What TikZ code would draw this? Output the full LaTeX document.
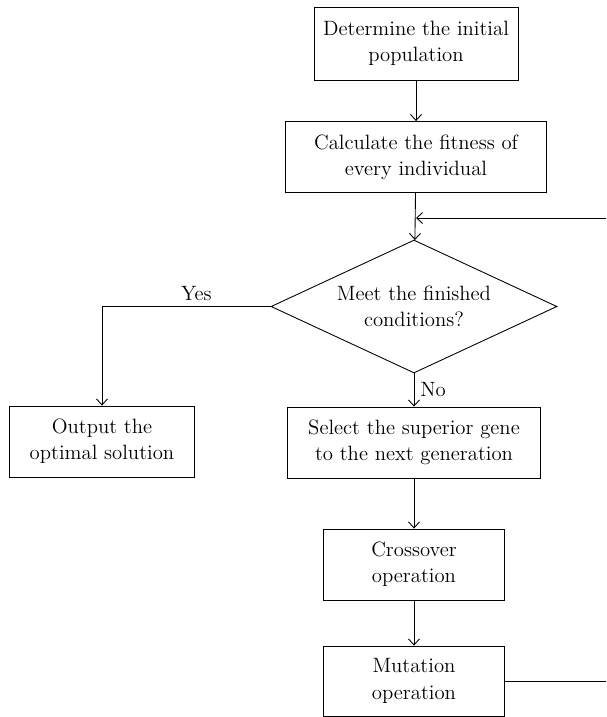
\documentclass[tikz,border=0pt]{standalone}
\usepackage{amsmath}
\usetikzlibrary{arrows, arrows.meta}
\usetikzlibrary{calc}
\usetikzlibrary{shapes.geometric}

\begin{document}
\begin{tikzpicture}[x=0.02cm, y=-0.02cm, line width=0.5pt,
    every node/.style={font=\fontsize{11.8}{15}\selectfont},
    flowbox/.style={rectangle, draw, align=center, inner sep=0pt, minimum height=1.42cm},
    flowtest/.style={diamond, draw, align=center, inner sep=0pt, aspect=2.15, minimum width=5.72cm, minimum height=2.66cm},
    flowarrow/.style={-{Straight Barb[length=1.2mm, width=2.2mm]}}]
      \useasboundingbox (0,0) rectangle (606,717);

      \node[flowbox, minimum width=4.08cm, minimum height=1.46cm] (init) at (416,43.5) {Determine the initial\\population};
      \node[flowbox, minimum width=5.22cm] (fit) at (416,157) {Calculate the fitness of\\every individual};
      \node[flowtest] (cond) at (414,306.5) {Meet the finished\\conditions?};
      \node[flowbox, minimum width=3.7cm] (out) at (102,441.5) {Output the\\optimal solution};
      \node[flowbox, minimum width=5.06cm] (sel) at (414,442.5) {Select the superior gene\\to the next generation};
      \node[flowbox, minimum width=3.62cm] (cross) at (414,564.5) {Crossover\\operation};
      \node[flowbox, minimum width=3.62cm, minimum height=1.4cm] (mut) at (414,681) {Mutation\\operation};

      \coordinate (loopin) at (606,218);
      \coordinate (loopout) at (606,681);

      \draw[flowarrow] (init) -- (fit);
      \draw[flowarrow] (fit) -- (cond);
      \draw[flowarrow] (loopin) -- (fit.south |- loopin);
      \draw[flowarrow] (cond.west) -| (out.north) node[pos=0.22, above] {Yes};
      \draw[flowarrow] (cond.south) -- (sel.north) node[midway, right] {No};
      \draw[flowarrow] (sel) -- (cross);
      \draw[flowarrow] (cross) -- (mut);
      \draw (mut.east) -- (loopout);
    \end{tikzpicture}
\end{document}
